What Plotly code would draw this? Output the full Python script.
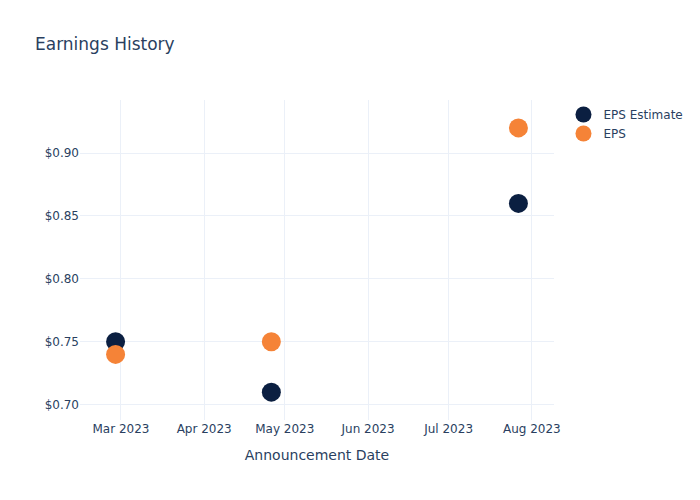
import plotly.graph_objects as go

dates = ["2023-02-27", "2023-04-26", "2023-07-27"]
eps_estimate = [0.75, 0.71, 0.86]
eps_actual = [0.74, 0.75, 0.92]

fig = go.Figure()
fig.add_trace(go.Scatter(x=dates, y=eps_estimate, mode="markers", name="EPS Estimate",
                         marker=dict(color="#0B1F41", size=19)))
fig.add_trace(go.Scatter(x=dates, y=eps_actual, mode="markers", name="EPS",
                         marker=dict(color="#F58337", size=19)))
fig.update_layout(
    template="plotly_white",
    width=700, height=500,
    font=dict(family="DejaVu Sans"),
    title=dict(text="Earnings History"),
    xaxis=dict(title="Announcement Date", tickformat="%b %Y"),
    yaxis=dict(tickprefix="$", tickformat=".2f"),
)
fig.write_html("out.html")
